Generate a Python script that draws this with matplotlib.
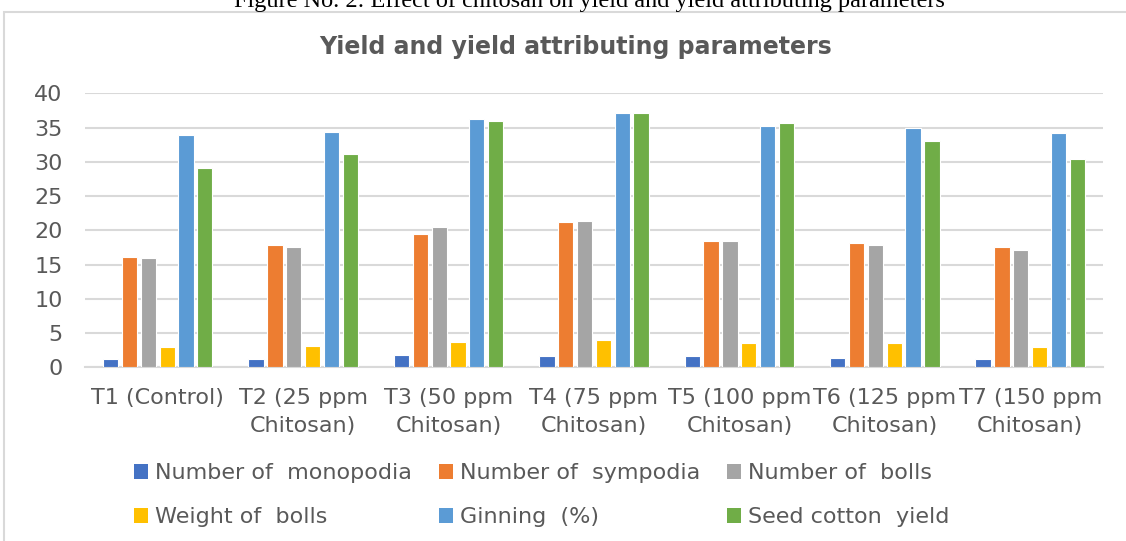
import numpy as np
import pandas as pd
import matplotlib
matplotlib.use('Agg')
import matplotlib.pyplot as plt
from matplotlib.patches import Patch, Rectangle

# 数据
categories = ['T1 (Control)', 'T2 (25 ppm\nChitosan)', 'T3 (50 ppm\nChitosan)',
              'T4 (75 ppm\nChitosan)', 'T5 (100 ppm\nChitosan)', 'T6 (125 ppm\nChitosan)',
              'T7 (150 ppm\nChitosan)']
monopodia = [1.2, 1.2, 1.8, 1.6, 1.6, 1.4, 1.2]
sympodia = [16.1, 17.9, 19.5, 21.2, 18.5, 18.1, 17.6]
bolls = [15.9, 17.6, 20.5, 21.4, 18.4, 17.9, 17.2]
weight_bolls = [2.9, 3.1, 3.7, 4.0, 3.5, 3.5, 2.9]
ginning = [33.9, 34.4, 36.2, 37.1, 35.3, 34.9, 34.2]
seed_cotton = [29.1, 31.1, 36.0, 37.2, 35.6, 33.0, 30.4]

series_names = ['Number of  monopodia', 'Number of  sympodia', 'Number of  bolls',
                'Weight of  bolls', 'Ginning  (%)', 'Seed cotton  yield']
colors = ['#4472C4', '#ED7D31', '#A5A5A5', '#FFC000', '#5B9BD5', '#70AD47']

df = pd.DataFrame(
    dict(zip(series_names, [monopodia, sympodia, bolls, weight_bolls, ginning, seed_cotton])),
    index=categories
)

text_color = '#595959'
grid_color = '#d9d9d9'
plt.rcParams['font.family'] = ['DejaVu Sans']

fig = plt.figure(figsize=(11.26, 5.41), dpi=100)
ax = fig.add_axes([0.0755, 0.321, 0.904, 0.5065])

x = np.arange(len(categories))
slot = 0.1295
width = 0.105
for j, name in enumerate(series_names):
    ax.bar(x + (j - 2.5) * slot, df[name], width=width, color=colors[j],
           edgecolor='white', linewidth=0.8, zorder=3)

ax.set_xlim(-0.5, len(categories) - 0.5)
ax.set_ylim(0, 40)
ax.set_yticks(range(0, 41, 5))
ax.yaxis.grid(True, color=grid_color, linewidth=1.5, zorder=0)
ax.set_axisbelow(True)
for s in ['top', 'right', 'left']:
    ax.spines[s].set_visible(False)
ax.spines['bottom'].set_color(grid_color)
ax.spines['bottom'].set_linewidth(1.5)

ax.set_xticks(x)
ax.set_xticklabels(categories, va='top', ha='center', multialignment='center',
                   linespacing=1.5)
ax.tick_params(axis='x', length=0, pad=15, labelsize=16, labelcolor=text_color)
ax.tick_params(axis='y', length=0, pad=16, labelsize=16, labelcolor=text_color)

# 标题
fig.text(0.511, 1 - 47 / 541, 'Yield and yield attributing parameters',
         ha='center', va='center', fontsize=17, fontweight='bold', color=text_color)

# 顶部的图注(被裁切)
fig.text(0.5235, 1 - 1 / 541, 'Figure No. 2: Effect of chitosan on yield and yield attributing parameters',
         ha='center', va='center', fontsize=17.5, family='Liberation Serif', color='black')

# 图表边框
fig.patches.append(Rectangle((4 / 1126, -0.1), 1.2, 1.1 - 12 / 541, transform=fig.transFigure,
                             fill=False, edgecolor=grid_color, linewidth=1.5))

# 图例 (行优先顺序)
handles = [Patch(facecolor=c, edgecolor='none') for c in colors]
order = [0, 3, 1, 4, 2, 5]
fig.legend([handles[i] for i in order], [series_names[i] for i in order],
           loc='upper left', bbox_to_anchor=(134 / 1126, 1 - 463 / 541),
           ncol=3, frameon=False, fontsize=16, labelcolor=text_color,
           handlelength=0.65, handleheight=0.65, handletextpad=0.3,
           columnspacing=1.2, labelspacing=1.1, borderpad=0, borderaxespad=0)

fig.savefig('out.png', dpi=100)
